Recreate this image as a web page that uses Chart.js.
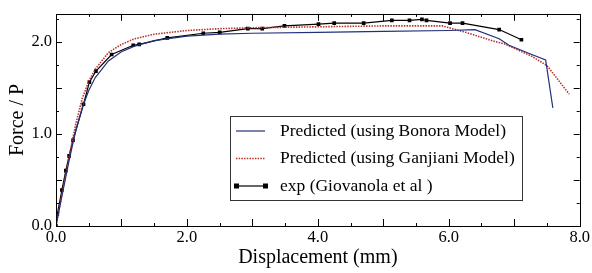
<!DOCTYPE html>
<html>
<head>
<meta charset="utf-8">
<script src="https://cdn.jsdelivr.net/npm/chart.js@4"></script>
<style>
  html, body { margin: 0; padding: 0; background: #fff; }
  #wrap { width: 592px; height: 273px; }
</style>
</head>
<body>
<div id="wrap"><canvas id="myChart" width="592" height="273"></canvas></div>
<script>
// Predicted (using Bonora Model)
var bonoraX = [0, 0.1, 0.2, 0.3, 0.4, 0.5, 0.6, 0.8, 1.0, 1.2, 1.5, 2.0, 2.5, 3.0, 4.0, 5.0, 6.0, 6.4, 6.77, 6.92, 7.23, 7.48, 7.59];
var bonoraY = [0, 0.36, 0.71, 1.03, 1.28, 1.47, 1.61, 1.79, 1.89, 1.95, 2.01, 2.06, 2.08, 2.09, 2.10, 2.11, 2.12, 2.13, 2.03, 1.96, 1.87, 1.80, 1.28];

// Predicted (using Ganjiani Model)
var ganjianiX = [0, 0.1, 0.2, 0.3, 0.4, 0.5, 0.6, 0.8, 1.0, 1.2, 1.5, 2.0, 2.5, 3.0, 4.0, 5.0, 5.9, 6.26, 6.66, 6.87, 7.27, 7.5, 7.84];
var ganjianiY = [0, 0.38, 0.75, 1.10, 1.38, 1.57, 1.70, 1.88, 1.97, 2.03, 2.08, 2.12, 2.14, 2.15, 2.16, 2.17, 2.17, 2.10, 2.01, 1.97, 1.84, 1.74, 1.43];

// exp (Giovanola et al)
var expX = [0, 0.02, 0.09, 0.15, 0.2, 0.26, 0.42, 0.51, 0.61, 0.85, 1.18, 1.27, 1.70, 2.25, 2.50, 2.93, 3.15, 3.49, 4.01, 4.25, 4.70, 5.13, 5.40, 5.59, 5.66, 6.02, 6.21, 6.77, 7.11];
var expY = [0, 0.13, 0.39, 0.60, 0.76, 0.93, 1.32, 1.56, 1.68, 1.86, 1.96, 1.97, 2.04, 2.09, 2.10, 2.14, 2.14, 2.17, 2.19, 2.20, 2.20, 2.23, 2.23, 2.24, 2.23, 2.20, 2.20, 2.13, 2.02];

var seriesLabels = ["Predicted (using Bonora Model)", "Predicted (using Ganjiani Model)", "exp (Giovanola et al )"];

var xTickValues = [0, 2, 4, 6, 8];
var xTickLabels = ["0.0", "2.0", "4.0", "6.0", "8.0"];
var yTickValues = [0, 1, 2];
var yTickLabels = ["0.0", "1.0", "2.0"];

function pts(xs, ys) {
    return xs.map(function (x, i) { return { x: x, y: ys[i] }; });
}

var serif = "'Liberation Serif', 'Times New Roman', serif";

// frame with inward ticks on all four sides
var frameTicks = {
    id: 'frameTicks',
    afterDraw: function (chart) {
        var ctx = chart.ctx, a = chart.chartArea;
        var xs = chart.scales.x, ys = chart.scales.y;
        ctx.save();
        ctx.strokeStyle = '#000';
        ctx.lineWidth = 1;
        ctx.strokeRect(Math.round(a.left) + 0.5, Math.round(a.top) + 0.5,
            Math.round(a.right - a.left), Math.round(a.bottom - a.top));
        ctx.beginPath();
        for (var i = 1; i < 16; i++) {
            var v = i * 0.5;
            var px = Math.round(xs.getPixelForValue(v)) + 0.5;
            var len = (i % 2 === 0) ? 7 : 3;
            ctx.moveTo(px, a.bottom); ctx.lineTo(px, a.bottom - len);
            ctx.moveTo(px, a.top); ctx.lineTo(px, a.top + len);
        }
        for (var j = 1; j <= 9; j++) {
            var w = j * 0.25;
            var py = Math.round(ys.getPixelForValue(w)) + 0.5;
            var l2 = (j % 2 === 0) ? 6 : 3;
            ctx.moveTo(a.left, py); ctx.lineTo(a.left + l2, py);
            ctx.moveTo(a.right, py); ctx.lineTo(a.right - l2, py);
        }
        ctx.stroke();
        ctx.restore();
    }
};

// boxed legend drawn inside the plot
var boxLegend = {
    id: 'boxLegend',
    afterDraw: function (chart) {
        var ctx = chart.ctx;
        var bx = 230.5, by = 116.5, bw = 292, bh = 84;
        ctx.save();
        ctx.fillStyle = '#fff';
        ctx.fillRect(bx, by, bw, bh);
        ctx.strokeStyle = '#333';
        ctx.lineWidth = 1;
        ctx.strokeRect(bx, by, bw, bh);
        ctx.font = "17.5px " + serif;
        ctx.textBaseline = 'middle';
        chart.data.datasets.forEach(function (ds, i) {
            var yy = 131 + i * 27.5;
            ctx.strokeStyle = ds.borderColor;
            ctx.lineWidth = ds.borderWidth;
            ctx.setLineDash(ds.borderDash || []);
            ctx.beginPath();
            ctx.moveTo(236, yy); ctx.lineTo(265, yy);
            ctx.stroke();
            ctx.setLineDash([]);
            if (ds.pointRadius > 0) {
                ctx.fillStyle = ds.pointBackgroundColor;
                ctx.fillRect(234, yy - 2.5, 5, 5);
                ctx.fillRect(263, yy - 2.5, 5, 5);
            }
            ctx.fillStyle = '#000';
            ctx.fillText(ds.label, 280, yy);
        });
        ctx.restore();
    }
};

var ctx = document.getElementById('myChart').getContext('2d');
var chart = new Chart(ctx, {
    type: 'line',
    data: {
        datasets: [{
            label: seriesLabels[0],
            data: pts(bonoraX, bonoraY),
            borderColor: '#23307a',
            borderWidth: 1.2,
            pointRadius: 0,
            tension: 0
        },
        {
            label: seriesLabels[1],
            data: pts(ganjianiX, ganjianiY),
            borderColor: '#b8322c',
            borderWidth: 1.6,
            borderDash: [1.5, 1.2],
            pointRadius: 0,
            tension: 0
        },
        {
            label: seriesLabels[2],
            data: pts(expX, expY),
            borderColor: '#000',
            borderWidth: 1.2,
            pointStyle: 'rect',
            pointRadius: 2.6,
            pointBackgroundColor: '#000',
            pointBorderColor: '#000',
            pointBorderWidth: 0,
            tension: 0
        }]
    },
    options: {
        responsive: false,
        animation: false,
        layout: { padding: { top: 10, right: 11, bottom: 0, left: 0 } },
        plugins: { legend: { display: false }, tooltip: { enabled: false } },
        scales: {
            x: {
                type: 'linear',
                min: 0, max: 8,
                grid: { display: false, drawTicks: false },
                border: { display: false },
                afterBuildTicks: function (s) { s.ticks = xTickValues.map(function (v) { return { value: v }; }); },
                afterFit: function (s) { s.height = 47; },
                ticks: {
                    padding: 2,
                    color: '#000',
                    font: { family: serif, size: 16.5 },
                    maxRotation: 0,
                    callback: function (v, i) { return xTickLabels[i]; }
                },
                title: {
                    display: true,
                    text: 'Displacement (mm)',
                    color: '#000',
                    font: { family: serif, size: 20 },
                    padding: { top: 0, bottom: 3 }
                }
            },
            y: {
                type: 'linear',
                min: 0, max: 2.3,
                grid: { display: false, drawTicks: false },
                border: { display: false },
                afterBuildTicks: function (s) { s.ticks = yTickValues.map(function (v) { return { value: v }; }); },
                afterFit: function (s) { s.width = 56; },
                ticks: {
                    padding: 4,
                    color: '#000',
                    font: { family: serif, size: 16.5 },
                    callback: function (v, i) { return yTickLabels[i]; }
                },
                title: {
                    display: true,
                    text: 'Force / P',
                    color: '#000',
                    font: { family: serif, size: 20 },
                    padding: { top: 6, bottom: 0 }
                }
            }
        }
    },
    plugins: [frameTicks, boxLegend]
});
</script>
</body>
</html>
